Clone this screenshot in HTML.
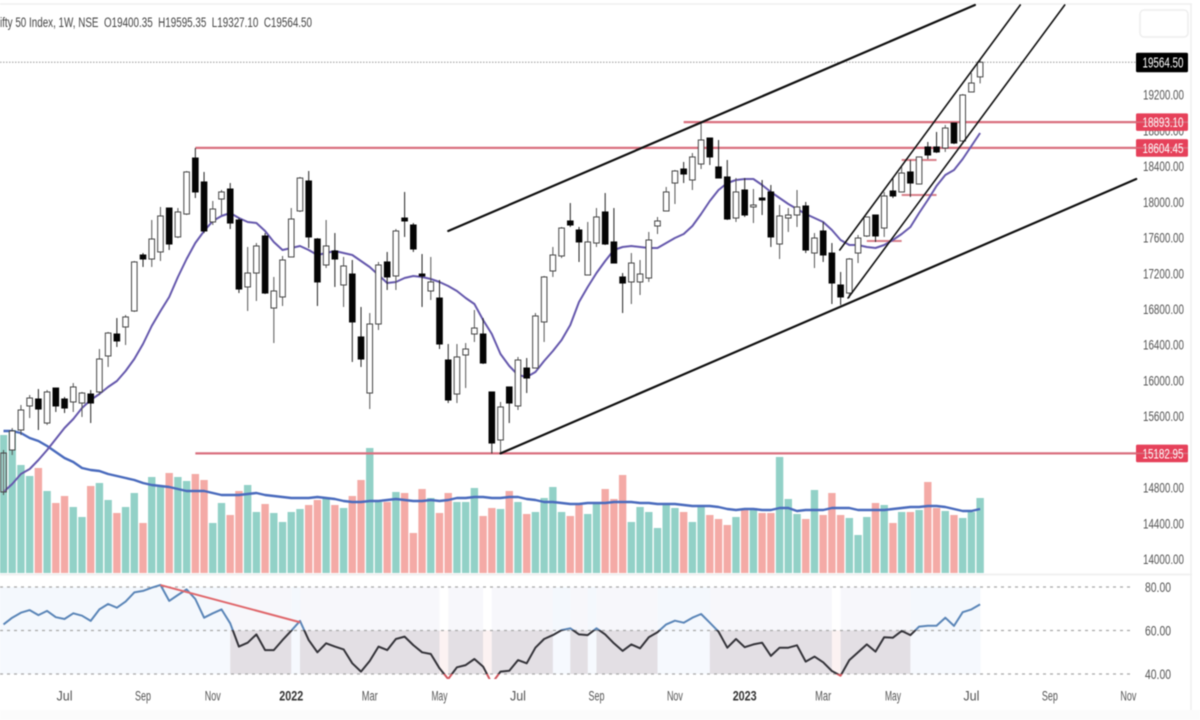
<!DOCTYPE html>
<html lang="en">
<head>
<meta charset="utf-8">
<title>Nifty 50 Index weekly chart</title>
<style>
html,body{margin:0;padding:0;background:#fff;width:1200px;height:720px;overflow:hidden}
svg{display:block;filter:blur(.4px)}
text{font-family:"Liberation Sans",sans-serif}
</style>
</head>
<body>
<svg id="chart" xmlns="http://www.w3.org/2000/svg" width="1200" height="720" viewBox="0 0 1200 720">
  <defs>
    <clipPath id="clip-rsi-high"><rect x="0" y="575" width="1136" height="55"/></clipPath>
    <clipPath id="clip-rsi-mid"><rect x="0" y="630" width="1136" height="44"/></clipPath>
    <clipPath id="clip-rsi-low"><rect x="0" y="674" width="1136" height="5"/></clipPath>
  </defs>
  <rect x="0" y="0" width="1200" height="720" fill="#ffffff"/>
  <line x1="0" y1="4" x2="1192" y2="4" stroke="#efefef" stroke-width="1.5"/>
  <line x1="1191" y1="4" x2="1191" y2="710" stroke="#efefef" stroke-width="1.5"/>
  <line x1="0" y1="574.5" x2="1192" y2="574.5" stroke="#eeeeee" stroke-width="1.5"/>
  <rect x="0" y="710" width="1200" height="10" fill="#fbfbfb"/>
  <g id="rsi-zones"></g>
  <g id="volume-pane"></g>
  <g id="levels"></g>
  <g id="price-pane"></g>
  <g id="drawings"></g>
  <g id="rsi-pane"></g>
  <g id="axes"></g>
  <text x="0" y="27" font-size="13.5" fill="#444" textLength="312" lengthAdjust="spacingAndGlyphs" xml:space="preserve">ifty 50 Index, 1W, NSE  O19400.35  H19595.35  L19327.10  C19564.50</text>
  <rect x="1140" y="10" width="48" height="27" rx="4" fill="#fff" stroke="#eeeeee" stroke-width="1.5"/>
</svg>
<script>
const openPrices = [
14751,15221,15445,15714,15792,15523,15915,15792,15759,15747,
15848,15871,16274,16520,16599,16778,17405,17360,17439,17931,
17607,17864,18491,18223,17775,18032,18144,17797,17047,17203,
17618,16811,16935,17383,17898,18234,17584,17293,17450,17069,
17192,16487,15859,16632,17327,17170,17819,17741,17192,17002,
16923,16229,15848,16285,16520,16520,15871,15333,15927,15714,
16139,16139,16655,17226,17394,17786,17685,17181,17539,17887,
17551,17159,17103,17103,17147,17730,17898,18211,18368,18245,
18424,18715,18391,18279,17819,18133,17943,18043,18111,17528,
17819,17853,17954,17427,17674,17427,17069,16979,17427,17618,
17853,17707,18122,18111,18335,18200,18615,18615,18603,18883,
18682,19231,19400];
const highPrices = [
15221,15467,15725,15837,15904,15893,15915,15815,15971,15871,
15893,16352,16543,16699,16733,17338,17427,17797,17943,17931,
17931,18346,18603,18335,18010,18133,18211,17819,17495,17539,
17651,17159,17394,17931,18279,18346,17595,17797,17651,17383,
17349,16823,16755,17327,17439,17696,18111,17763,17416,17383,
17125,16408,16408,16419,16789,16699,15871,15759,15927,16263,
16251,16755,17170,17495,17719,17987,17719,17775,17931,18099,
17931,17203,17427,17349,17663,17831,18167,18357,18447,18547,
18895,18715,18693,18469,18267,18267,18144,18245,18189,17965,
17931,18133,17999,17651,17775,17539,17215,17371,17629,17831,
17853,18111,18267,18391,18469,18503,18671,18783,18861,18883,
19208,19443,19595];
const lowPrices = [
14717,15165,15389,15579,15445,15501,15647,15635,15647,15591,
15523,15837,16151,16375,16397,16767,17271,17271,17338,17461,
17595,17853,18043,17651,17741,17853,17696,16979,16778,16890,
16968,16419,16834,17383,17887,17483,16834,17259,17047,16823,
16207,16151,15680,16565,17013,17013,17607,17439,16823,16901,
16352,15747,15747,15915,16431,16184,15183,15183,15523,15669,
15859,16139,16431,17159,17371,17719,17327,17181,17495,17517,
17315,16755,16856,16957,17103,17640,17898,17976,18211,18133,
18368,18413,18267,17797,17775,17831,17763,17853,17495,17360,
17663,17719,17427,17259,17327,16856,16845,16923,17315,17607,
17551,17607,18043,18111,18055,18200,18480,18547,18559,18648,
18671,19231,19327];
const closePrices = [
15187,15434,15669,15803,15680,15871,15714,15691,15927,15859,
15747,16240,16531,16442,16711,17327,17360,17584,17842,17528,
17887,18335,18111,17674,17920,18111,17763,17024,17203,17506,
16979,17002,17349,17808,18267,17607,17103,17506,17360,17282,
16655,16240,16632,17293,17159,17674,17786,17472,17170,17103,
16408,15781,16263,16352,16587,16195,15299,15703,15747,16229,
16027,16722,17159,17405,17707,17741,17551,17551,17831,17528,
17315,17091,17315,17192,17573,17786,18111,18346,18312,18503,
18693,18503,18267,17808,18111,17853,17965,18021,17607,17842,
17853,17943,17461,17595,17405,17091,16935,17360,17595,17831,
17618,18066,18066,18323,18211,18503,18525,18559,18827,18659,
19197,19331,19564];
const priceMA = [
14751,14840,14952,15008,15109,15221,15344,15467,15568,15691,
15781,15848,15927,15994,16106,16240,16408,16610,16778,16935,
17159,17360,17539,17674,17786,17842,17875,17819,17775,17763,
17674,17551,17461,17483,17506,17461,17405,17427,17450,17427,
17405,17338,17271,17181,17091,17103,17147,17170,17159,17136,
17103,17058,17002,16923,16856,16677,16520,16296,16162,16061,
16039,16095,16218,16330,16453,16621,16879,17047,17203,17338,
17461,17495,17506,17495,17483,17483,17539,17595,17640,17730,
17864,18010,18133,18211,18245,18256,18256,18189,18111,18043,
17976,17920,17864,17819,17775,17685,17573,17517,17517,17495,
17483,17517,17573,17640,17719,17875,18021,18178,18301,18357,
18480,18626,18771];
const volumes = [
138,143,108,97,105,82,70,77,66,56,
87,90,73,60,66,80,50,96,86,100,
96,92,99,93,50,70,58,82,88,61,
69,60,51,61,64,68,73,75,68,65,
77,93,125,71,71,81,80,40,84,75,
60,80,71,71,85,57,65,64,82,71,
59,61,75,86,61,57,68,59,71,84,
74,98,51,66,61,45,68,65,61,51,
68,58,54,48,56,63,65,60,60,116,
74,59,54,83,58,80,58,55,38,56,
70,68,50,61,61,63,91,65,62,58,
55,61,75];
const volumeMA = [
142,142,140,135,132,127,121,115,111,105,
103,102,99,97,95,93,90,88,87,86,
84,82,82,82,80,78,78,78,79,80,
78,77,76,75,75,75,76,75,74,72,
71,71,72,72,73,74,73,72,72,73,
72,73,75,75,76,76,75,75,76,76,
74,73,71,71,70,69,69,70,70,70,
71,71,71,70,70,69,69,69,68,67,
67,67,66,64,63,64,64,63,63,65,
65,62,63,63,63,65,65,65,63,63,
63,63,64,65,66,66,67,67,66,64,
62,62,64];
const rsiValues = [
62.8,65.9,68.2,69.4,67.1,69.0,66.1,65.3,67.9,66.8,
64.4,69.7,72.2,70.5,73.3,77.5,78.2,79.7,80.9,73.6,
76.3,78.9,74.5,65.9,67.9,69.7,63.3,52.6,54.4,58.2,
51.0,51.0,55.6,59.9,64.4,55.6,50.0,54.1,52.6,51.3,
44.9,41.1,46.0,52.6,51.0,56.1,57.2,53.3,50.0,49.2,
42.6,37.7,43.1,44.1,46.9,43.4,35.7,41.1,41.5,46.4,
44.9,52.1,56.1,57.9,60.2,61.0,58.2,57.9,61.0,58.2,
54.1,50.6,53.6,51.8,56.9,59.2,62.8,64.5,63.6,65.9,
67.6,63.6,59.5,52.1,56.1,52.3,53.6,54.4,48.3,52.1,
52.1,53.2,45.7,48.0,45.4,41.4,39.2,46.4,50.0,53.6,
50.3,56.9,56.7,59.8,57.9,61.8,62.2,62.2,65.9,62.1,
68.4,69.7,72.0];

const priceTicks = [14000,14400,14800,15200,15600,16000,16400,16800,17200,17600,18000,18400,18800,19200];
const rsiTicks = [40,60,80];
const timeLabels = ['Jul','Sep','Nov','2022','Mar','May','Jul','Sep','Nov','2023','Mar','May','Jul','Sep','Nov'];
const timeIndices = [7,16,24,33,42,50,59,68,77,85,94,102,111,120,129];
const levelPrices = [18893.10,18604.45,15182.95];
const levelStarts = [78,22,22];
const lastClose = 19564.50;
const shortLevelPrices = [17562,18077,18469];
const shortLevelStarts = [99,103,103];
const shortLevelEnds = [103,107,107];
const channelIndexA = [51,57,95.9,96.85];
const channelPriceA = [17674,15183,17461,16923];
const channelIndexB = [111.4,129.9,116.6,121.7];
const channelPriceB = [20205,18256,20205,20205];
const channelWidths = [2.2,2.2,1.6,1.6];
const divergenceIndex = [18,34];
const divergenceRsi = [80.9,63.8];

const xAxis = i => 3.5 + 8.72 * i;
const priceAxis = p => (20261 - p) / 11.2;
const volumeAxis = v => 573 - v;
const rsiAxis = r => 674 - (r - 40) * 2.175;
const AXIS_LEFT = 1136;
const NS = 'http://www.w3.org/2000/svg';

function mk(parent, tag, attrs, txt) {
  const el = document.createElementNS(NS, tag);
  for (const k in attrs) el.setAttribute(k, attrs[k]);
  if (txt !== undefined) el.textContent = txt;
  parent.appendChild(el);
  return el;
}
function pointsOf(values, axis) {
  return values.map((v, i) => xAxis(i).toFixed(1) + ',' + axis(v).toFixed(1)).join(' ');
}
const gZones = document.getElementById('rsi-zones');
const gVol = document.getElementById('volume-pane');
const gLev = document.getElementById('levels');
const gPrice = document.getElementById('price-pane');
const gDraw = document.getElementById('drawings');
const gRsi = document.getElementById('rsi-pane');
const gAxes = document.getElementById('axes');

/* RSI zones */
rsiValues.forEach((r, i) => {
  const x0 = xAxis(i - 1), w = 8.72 + 0.3;
  let upperFill = '#f4f8fd', lowerFill = '#f6f9fe';
  if (r < 40) { upperFill = '#ffffff'; lowerFill = '#fcf2f2'; }
  else if (r < 60) { upperFill = '#f7f7fb'; lowerFill = '#e3dfe4'; }
  const up = mk(gZones, 'rect', {x: x0, y: rsiAxis(80), width: w, height: rsiAxis(60) - rsiAxis(80), fill: upperFill});
  
  
  const low = mk(gZones, 'rect', {x: x0, y: rsiAxis(60), width: w, height: rsiAxis(40) - rsiAxis(60), fill: lowerFill});
  
  
});

/* Volume */
volumes.forEach((v, i) => {
  const up = closePrices[i] >= openPrices[i];
  const bar = mk(gVol, 'rect', {x: xAxis(i) - 3.7, y: volumeAxis(v), width: 7.4, height: v, fill: up ? '#92d1c7' : '#f4aaa6'});
  
  
});
const vma = mk(gVol, 'polyline', {points: pointsOf(volumeMA, volumeAxis), fill: 'none', stroke: '#4a6bbd', 'stroke-width': 2.4, 'stroke-linejoin': 'round'});



/* Levels */
const lastLine = mk(gLev, 'line', {x1: 0, x2: AXIS_LEFT, y1: priceAxis(lastClose), y2: priceAxis(lastClose), stroke: '#9a9a9a', 'stroke-width': 1, 'stroke-dasharray': '1.5 1.5'});


levelPrices.forEach((p, k) => {
  const ln = mk(gLev, 'line', {x1: xAxis(levelStarts[k]), x2: AXIS_LEFT, y1: priceAxis(p), y2: priceAxis(p), stroke: '#d9707f', 'stroke-width': 2.2});
  
  
});
shortLevelPrices.forEach((p, k) => {
  const ln = mk(gLev, 'line', {x1: xAxis(shortLevelStarts[k]), x2: xAxis(shortLevelEnds[k]), y1: priceAxis(p), y2: priceAxis(p), stroke: '#d9808a', 'stroke-width': 2});
  
  
});

/* Price MA below candles */
const pma = mk(gPrice, 'polyline', {points: pointsOf(priceMA, priceAxis), fill: 'none', stroke: '#6659ad', 'stroke-width': 2, 'stroke-linejoin': 'round'});



/* Candles */
closePrices.forEach((c, i) => {
  const o = openPrices[i], up = c >= o, x = xAxis(i);
  const wick = mk(gPrice, 'line', {x1: x, x2: x, y1: priceAxis(highPrices[i]), y2: priceAxis(lowPrices[i]), stroke: up ? '#555' : '#222', 'stroke-width': 1});
  
  
  const top = priceAxis(Math.max(o, c)), bot = priceAxis(Math.min(o, c));
  const body = mk(gPrice, 'rect', {x: x - 2.8, y: top, width: 5.6, height: Math.max(bot - top, 1), fill: up ? '#fff' : '#050505', 'fill-opacity': (up && i === 0) ? 0.15 : 1, stroke: up ? '#444' : '#050505', 'stroke-width': 1});
  
  
});

/* Trend lines */
channelIndexA.forEach((a, k) => {
  const ln = mk(gDraw, 'line', {x1: xAxis(a), y1: priceAxis(channelPriceA[k]), x2: xAxis(channelIndexB[k]), y2: priceAxis(channelPriceB[k]), stroke: '#111', 'stroke-width': channelWidths[k], 'stroke-linecap': 'round'});
  
  
});

/* RSI */
rsiTicks.forEach(t => {
  const ln = mk(gRsi, 'line', {x1: 0, x2: 1132, y1: rsiAxis(t), y2: rsiAxis(t), stroke: '#a8a8a8', 'stroke-width': 1.2, 'stroke-dasharray': '3 4'});
  
  
});
const rsiHigh = mk(gRsi, 'polyline', {points: pointsOf(rsiValues, rsiAxis), fill: 'none', stroke: '#5b86b8', 'stroke-width': 2, 'clip-path': 'url(#clip-rsi-high)', 'stroke-linejoin': 'round'});


const rsiMid = mk(gRsi, 'polyline', {points: pointsOf(rsiValues, rsiAxis), fill: 'none', stroke: '#35343a', 'stroke-width': 2, 'clip-path': 'url(#clip-rsi-mid)', 'stroke-linejoin': 'round'});


const rsiLow = mk(gRsi, 'polyline', {points: pointsOf(rsiValues, rsiAxis), fill: 'none', stroke: '#d0565e', 'stroke-width': 2, 'clip-path': 'url(#clip-rsi-low)', 'stroke-linejoin': 'round'});


const div = mk(gRsi, 'line', {x1: xAxis(divergenceIndex[0]), y1: rsiAxis(divergenceRsi[0]), x2: xAxis(divergenceIndex[1]), y2: rsiAxis(divergenceRsi[1]), stroke: '#e0686c', 'stroke-width': 2});



/* Axes */
priceTicks.forEach(t => {
  const lb = mk(gAxes, 'text', {x: 1143, y: priceAxis(t) + 5, 'font-size': 14, fill: '#555', textLength: 41, lengthAdjust: 'spacingAndGlyphs'}, t.toFixed(2));
  
  
});
rsiTicks.forEach(t => {
  const lb = mk(gAxes, 'text', {x: 1145, y: rsiAxis(t) + 5, 'font-size': 14, fill: '#555', textLength: 26, lengthAdjust: 'spacingAndGlyphs'}, t.toFixed(2));
  
  
});
timeLabels.forEach((t, k) => {
  const isYear = /^\d+$/.test(t);
  const lb = mk(gAxes, 'text', {x: xAxis(timeIndices[k]), y: 700.5, 'font-size': 13.5, fill: isYear ? '#333' : '#555', 'font-weight': isYear ? 700 : 400, 'text-anchor': 'middle', textLength: isYear ? 24 : 16, lengthAdjust: 'spacingAndGlyphs'}, t);
  
  
});
const lastTag = mk(gAxes, 'rect', {x: 1136, y: priceAxis(lastClose) - 9.5, width: 52, height: 19.5, fill: '#000', rx: 1.5});


const lastText = mk(gAxes, 'text', {x: 1142.5, y: priceAxis(lastClose) + 5.5, 'font-size': 15, fill: '#fff', textLength: 41, lengthAdjust: 'spacingAndGlyphs'}, lastClose.toFixed(2));


levelPrices.forEach(p => {
  const tag = mk(gAxes, 'rect', {x: 1136, y: priceAxis(p) - 8.8, width: 52, height: 17.6, fill: '#e6415a', rx: 1.5});
  
  
  const tl = mk(gAxes, 'line', {x1: 1136, x2: 1188, y1: priceAxis(p), y2: priceAxis(p), stroke: '#d9707f', 'stroke-width': 1.5});
  
  
  const lb = mk(gAxes, 'text', {x: 1142.5, y: priceAxis(p) + 5, 'font-size': 14, fill: '#fff', textLength: 41, lengthAdjust: 'spacingAndGlyphs'}, p.toFixed(2));
  
  
});
</script>
</body>
</html>
